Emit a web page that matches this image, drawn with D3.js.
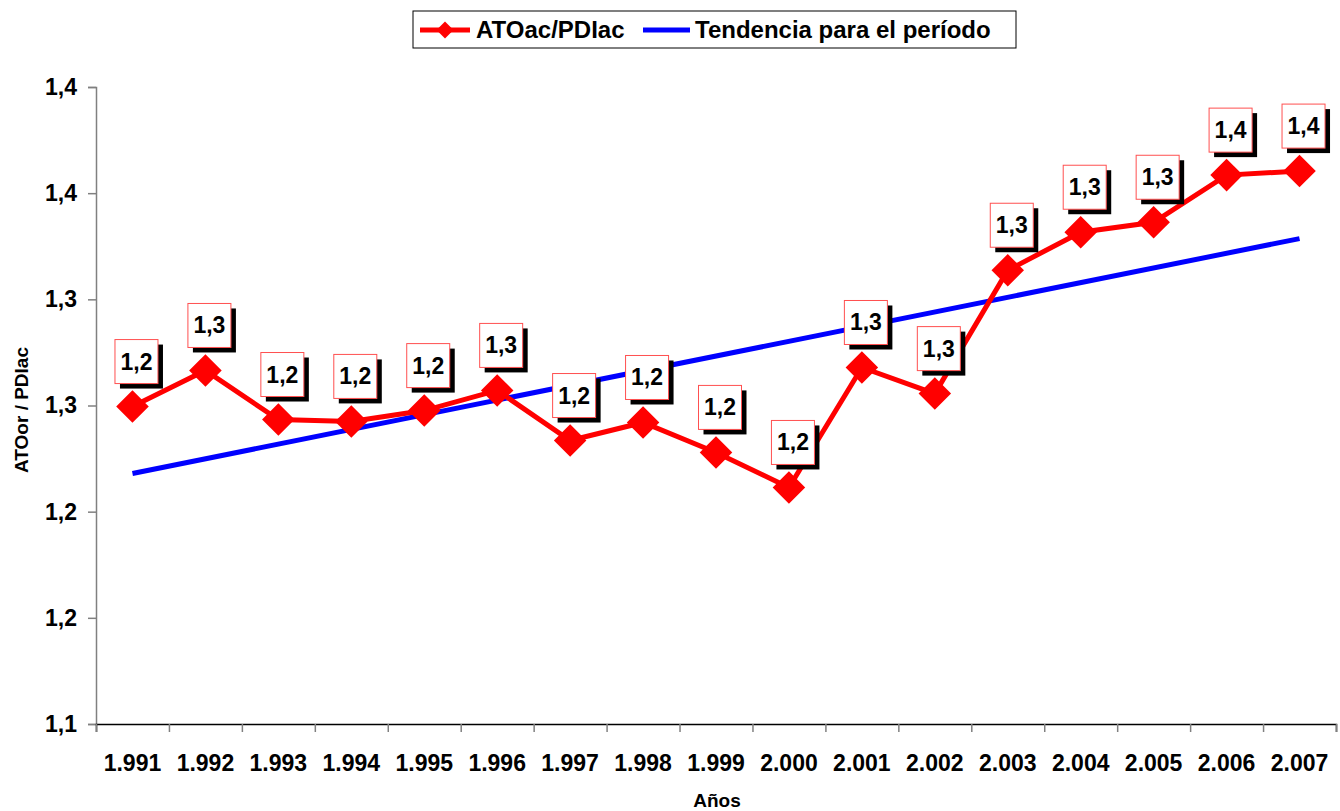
<!DOCTYPE html>
<html>
<head>
<meta charset="utf-8">
<script src="https://cdn.jsdelivr.net/npm/d3@7"></script>
<style>
  body { margin: 0; background: #fff; }
  svg { font-family: "Liberation Sans", Arial, sans-serif; font-weight: bold; }
</style>
</head>
<body>
<svg id="chart" width="1340" height="811"></svg>
<script>
// años y valores
var years = ['1.991','1.992','1.993','1.994','1.995','1.996','1.997','1.998','1.999','2.000','2.001','2.002','2.003','2.004','2.005','2.006','2.007'];
var ratio = [1.2495,1.2665,1.2434,1.2425,1.2476,1.2571,1.2335,1.2420,1.2279,1.2114,1.2679,1.2556,1.3137,1.3316,1.3363,1.3585,1.3604];
var trendEnds = [1.2180, 1.3286]; // tendencia en 1.991 y 2.007
var yTicks = [1.10,1.15,1.20,1.25,1.30,1.35,1.40];
var yTickLabels = ['1,1','1,2','1,2','1,3','1,3','1,4','1,4'];

var svg = d3.select('#chart');
var plotLeft = 96, plotRight = 1336, plotTop = 87, plotBottom = 724;

var x = d3.scalePoint().domain(years).range([plotLeft, plotRight]).padding(0.5);
var xb = d3.scaleLinear().domain([0, years.length]).range([plotLeft, plotRight]);
var y = d3.scaleLinear().domain([1.10, 1.40]).range([plotBottom, plotTop]);

// eje y
var yAxis = svg.append('g')
	.attr('transform', 'translate(' + plotLeft + ',0)')
	.call(d3.axisLeft(y).tickValues(yTicks).tickSize(8).tickPadding(11)
		.tickFormat(function(d, i) { return yTickLabels[i]; }));
yAxis.select('.domain').attr('stroke', '#808080').attr('stroke-width', 1.5);
yAxis.selectAll('.tick line').attr('stroke', '#808080').attr('stroke-width', 1.5);
yAxis.selectAll('.tick text').attr('font-size', 23).attr('font-weight', 'bold').attr('fill', '#000')
	.attr('font-family', '"Liberation Sans", Arial, sans-serif');

// eje x: marcas entre categorias
var xAxis = svg.append('g')
	.attr('transform', 'translate(0,' + plotBottom + ')')
	.call(d3.axisBottom(xb).tickValues(d3.range(years.length + 1)).tickSize(8).tickFormat(''));
xAxis.select('.domain').attr('stroke', '#000').attr('stroke-width', 1.5);
xAxis.selectAll('.tick line').attr('stroke', '#808080').attr('stroke-width', 1.5);

svg.append('g').selectAll('text').data(years).join('text')
	.attr('x', function(d) { return x(d); })
	.attr('y', 771)
	.attr('text-anchor', 'middle')
	.attr('font-size', 23)
	.text(function(d) { return d; });

// titulos de ejes
svg.append('text').attr('x', 717).attr('y', 807).attr('text-anchor', 'middle')
	.attr('font-size', 19).text('Años');
svg.append('text').attr('transform', 'translate(28,410) rotate(-90)').attr('text-anchor', 'middle')
	.attr('font-size', 19).text('ATOor / PDIac');

// tendencia
svg.append('line')
	.attr('x1', x(years[0])).attr('y1', y(trendEnds[0]))
	.attr('x2', x(years[years.length - 1])).attr('y2', y(trendEnds[1]))
	.attr('stroke', '#0000ff').attr('stroke-width', 5);

// serie
var pts = years.map(function(d, i) { return {year: d, v: ratio[i]}; });
svg.append('path').datum(pts)
	.attr('fill', 'none').attr('stroke', '#ff0000').attr('stroke-width', 5)
	.attr('d', d3.line().x(function(d) { return x(d.year); }).y(function(d) { return y(d.v); }));

var diamond = d3.symbol().type(d3.symbolSquare).size(23 * 23);
svg.append('g').selectAll('path').data(pts).join('path')
	.attr('transform', function(d) { return 'translate(' + x(d.year) + ',' + y(d.v) + ') rotate(45)'; })
	.attr('d', diamond)
	.attr('fill', '#ff0000');

// etiquetas de datos
var lab = svg.append('g').selectAll('g').data(pts).join('g')
	.attr('transform', function(d) { return 'translate(' + (x(d.year) + 4) + ',' + (y(d.v) - 45) + ')'; });
lab.append('rect').attr('x', -21.5 + 5).attr('y', -22 + 5).attr('width', 43).attr('height', 44).attr('fill', '#000');
lab.append('rect').attr('x', -21.5).attr('y', -22).attr('width', 43).attr('height', 44)
	.attr('fill', '#fff').attr('stroke', '#ff5050').attr('stroke-width', 1);
lab.append('text').attr('text-anchor', 'middle').attr('y', 8).attr('font-size', 23)
	.text(function(d) { return d.v.toFixed(1).replace('.', ','); });

// leyenda
var lg = svg.append('g');
lg.append('rect').attr('x', 413).attr('y', 11).attr('width', 603).attr('height', 37)
	.attr('fill', '#fff').attr('stroke', '#000').attr('stroke-width', 1);
lg.append('line').attr('x1', 420).attr('y1', 30).attr('x2', 470).attr('y2', 30)
	.attr('stroke', '#ff0000').attr('stroke-width', 5);
lg.append('path').attr('transform', 'translate(445,30) rotate(45)')
	.attr('d', d3.symbol().type(d3.symbolSquare).size(12 * 12)).attr('fill', '#ff0000');
lg.append('text').attr('x', 476).attr('y', 38).attr('font-size', 24).text('ATOac/PDIac');
lg.append('line').attr('x1', 643).attr('y1', 30).attr('x2', 690).attr('y2', 30)
	.attr('stroke', '#0000ff').attr('stroke-width', 5);
lg.append('text').attr('x', 695).attr('y', 38).attr('font-size', 24).text('Tendencia para el período');
</script>
</body>
</html>
